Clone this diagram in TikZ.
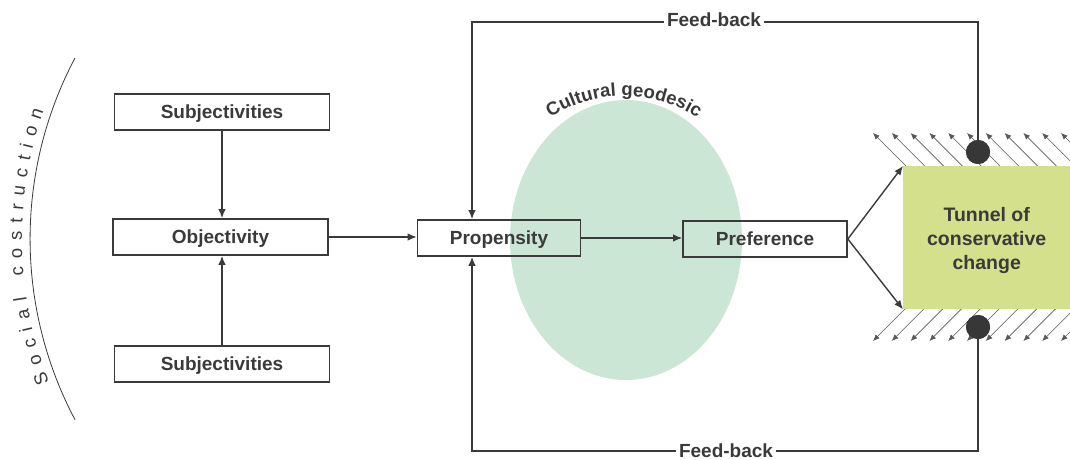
\documentclass[tikz,border=0pt]{standalone}
\usepackage{fontspec}
\setmainfont{Liberation Sans}
\usetikzlibrary{arrows.meta,decorations.text,shapes.geometric}
\definecolor{ink}{HTML}{3A3A3A}
\definecolor{geo}{HTML}{CCE6D5}
\definecolor{tunnelfill}{HTML}{D4E08C}
\begin{document}
\begin{tikzpicture}[x=1pt,y=-1pt,
  box/.style={draw=ink, line width=1.6pt, minimum height=36pt, inner sep=0pt,
    text height=13.6pt, text depth=0pt,
    text=ink, font=\fontsize{19}{22}\selectfont\bfseries},
  conn/.style={draw=ink, line width=1.4pt, -{Latex[length=9pt,width=7.5pt]}},
  hatch/.style={draw=ink!85, line width=0.6pt, -{Latex[length=6.5pt,width=5.5pt]}},
  lbl/.style={fill=white, text=ink, inner sep=3pt, font=\fontsize{19}{22}\selectfont\bfseries},
  knot/.style={circle, fill=ink!95!black, minimum size=24pt, inner sep=0pt}]
\useasboundingbox (0,0) rectangle (1070,460);

% cultural geodesic region
\node[ellipse, fill=geo, minimum width=232pt, minimum height=280pt, inner sep=0pt] (geodesic) at (626,240) {};
\path[decorate, decoration={text along path,
    text={|\fontsize{18.5}{19}\selectfont\bfseries\color{ink}|Cultural geodesic}, text align=center}]
  (544.6,121.8) arc[start angle=234, end angle=306, radius=135];

% social construction bracket
\draw[ink, line width=0.8pt] (75,58) arc[start angle=207.9, end angle=152.1, radius=386.5];
\path[decorate, decoration={text along path,
    text={|\fontsize{18.5}{19}\selectfont\color{ink}|Social costruction}, text align=fit to path}]
  (49.2,382.9) arc[start angle=158.6, end angle=199.0, radius=394.5];

% boxes
\node[box, minimum width=215pt] (subjA) at (222,112) {Subjectivities};
\node[box, minimum width=215pt] (obj) at (220.5,237) {Objectivity};
\node[box, minimum width=215pt] (subjB) at (222,364) {Subjectivities};
\node[box, minimum width=163pt] (prop) at (499,238) {Propensity};
\node[box, minimum width=164pt] (pref) at (765,239) {Preference};

% hatching along the tunnel walls
\foreach \i in {0,...,10} {
  \draw[hatch] (906+18.8*\i,166) -- ++(-33,-33);
  \draw[hatch] (906+18.8*\i,308) -- ++(-33,33);
}

\node[fill=tunnelfill, minimum width=167pt, minimum height=143pt, inner sep=0pt,
  anchor=north west] (tunnel) at (903,166) {};
\node[align=center, text=ink, inner sep=0pt,
  font=\fontsize{19.5}{24}\selectfont\bfseries] (tunnelText) at ([yshift=-3pt]tunnel.center)
  {Tunnel of\\conservative\\change};

% connectors
\draw[conn] (subjA.south) -- (subjA.south |- obj.north);
\draw[conn] (subjB.north) -- (subjB.north |- obj.south);
\draw[conn] (obj.east) -- (obj.east -| prop.west);
\draw[conn] (prop.east) -- (prop.east -| pref.west);
\draw[conn] (pref.east) -- (tunnel.north west);
\draw[conn] (pref.east) -- (tunnel.south west);

% feed-back loops
\node[knot] (knotT) at (978,152) {};
\node[knot] (knotB) at (978,327) {};
\coordinate (fbTop) at (472,22);
\coordinate (fbBot) at (472,451);
\draw[conn] (knotT.center) |- (fbTop) -- (fbTop |- prop.north);
\draw[conn] (knotB.center) |- (fbBot) -- (fbBot |- prop.south);
\node[knot] at (knotT) {};
\node[knot] at (knotB) {};
\node[lbl] (fbTopLabel) at (714,20) {Feed-back};
\node[lbl] (fbBotLabel) at (726,451) {Feed-back};
\end{tikzpicture}
\end{document}
